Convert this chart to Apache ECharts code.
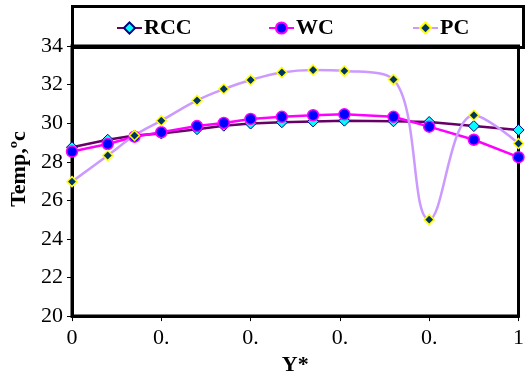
<!DOCTYPE html>
<html>
<head>
<meta charset="utf-8">
<script src="https://cdn.jsdelivr.net/npm/echarts@6/dist/echarts.min.js"></script>
<style>
html,body{margin:0;padding:0;background:#fff;}
#chart{width:527px;height:381px;}
</style>
</head>
<body>
<div id="chart"></div>
<script>
var xValues = [0, 0.08, 0.14, 0.2, 0.28, 0.34, 0.4, 0.47, 0.54, 0.61, 0.72, 0.8, 0.9, 1];
var rcc = [28.75, 29.14, 29.36, 29.47, 29.69, 29.87, 29.98, 30.05, 30.09, 30.13, 30.1, 30.06, 29.85, 29.65];
var wc  = [28.53, 28.92, 29.3, 29.53, 29.85, 30.01, 30.22, 30.33, 30.41, 30.46, 30.33, 29.82, 29.14, 28.24];
var pc  = [26.97, 28.32, 29.36, 30.13, 31.18, 31.77, 32.24, 32.63, 32.76, 32.71, 32.26, 25.0, 30.41, 28.95];
var xTickLabels = ['0', '0.', '0.', '0.', '0.', '1'];
var seriesNames = ['RCC', 'WC', 'PC'];

function pairs(ys) { return xValues.map(function (x, i) { return [x, ys[i]]; }); }

var FONT = '"Liberation Serif", "Times New Roman", serif';
var chart = echarts.init(document.getElementById('chart'), null, {renderer: 'canvas'});

function legendAt(name, left) {
  return {
    data: [name], left: left, top: 17, padding: 0,
    itemWidth: 25, itemHeight: 14, itemGap: 0,
    textStyle: {fontFamily: FONT, fontWeight: 'bold', fontSize: 22, color: '#000', padding: [0, 0, 0, -3]}
  };
}

chart.setOption({
  animation: false,
  backgroundColor: '#fff',
  graphic: [{
    type: 'rect', left: 71, top: 5, z: -1,
    shape: {width: 451, height: 41},
    style: {fill: '#fff', stroke: '#000', lineWidth: 3}
  }],
  legend: [legendAt(seriesNames[0], 116), legendAt(seriesNames[1], 268), legendAt(seriesNames[2], 412)],
  grid: {left: 71, right: 5, top: 46, bottom: 44, show: true, borderColor: '#000', borderWidth: 3, backgroundColor: 'transparent'},
  xAxis: {
    type: 'value', min: 0, max: 1, interval: 0.2,
    name: 'Y*', nameLocation: 'middle', nameGap: 31,
    nameTextStyle: {fontFamily: FONT, fontWeight: 'bold', fontSize: 22, color: '#000'},
    axisLine: {show: true, lineStyle: {color: '#000', width: 3}},
    axisTick: {show: true, length: 5, lineStyle: {color: '#000', width: 1}},
    splitLine: {show: false},
    axisLabel: {
      margin: 11, fontFamily: FONT, fontSize: 22, color: '#000',
      formatter: function (v) { return xTickLabels[Math.round(v / 0.2)]; }
    }
  },
  yAxis: {
    type: 'value', min: 20, max: 34, interval: 2,
    name: 'Temp,ºc', nameLocation: 'middle', nameGap: 42, nameRotate: 90,
    nameTextStyle: {fontFamily: FONT, fontWeight: 'bold', fontSize: 22, color: '#000', padding: [0, 0, 0, 24]},
    axisLine: {show: true, lineStyle: {color: '#000', width: 3}},
    axisTick: {show: true, length: 5, lineStyle: {color: '#000', width: 1}},
    splitLine: {show: false},
    axisLabel: {margin: 9, fontFamily: FONT, fontSize: 22, color: '#000'}
  },
  series: [
    {
      name: seriesNames[0], type: 'line', data: pairs(rcc),
      symbol: 'diamond', symbolSize: 11,
      itemStyle: {color: '#00FFFF', borderColor: '#000080', borderWidth: 1},
      lineStyle: {color: '#660066', width: 2.5}
    },
    {
      name: seriesNames[1], type: 'line', data: pairs(wc),
      symbol: 'circle', symbolSize: 11,
      itemStyle: {color: '#0000FF', borderColor: '#FF00FF', borderWidth: 1.5},
      lineStyle: {color: '#FF00FF', width: 2.5}
    },
    {
      name: seriesNames[2], type: 'line', data: pairs(pc), smooth: 0.4,
      symbol: 'diamond', symbolSize: 10,
      itemStyle: {color: '#003366', borderColor: '#FFFF00', borderWidth: 1.5},
      lineStyle: {color: '#CC99FF', width: 2.5}
    }
  ]
});
</script>
</body>
</html>
